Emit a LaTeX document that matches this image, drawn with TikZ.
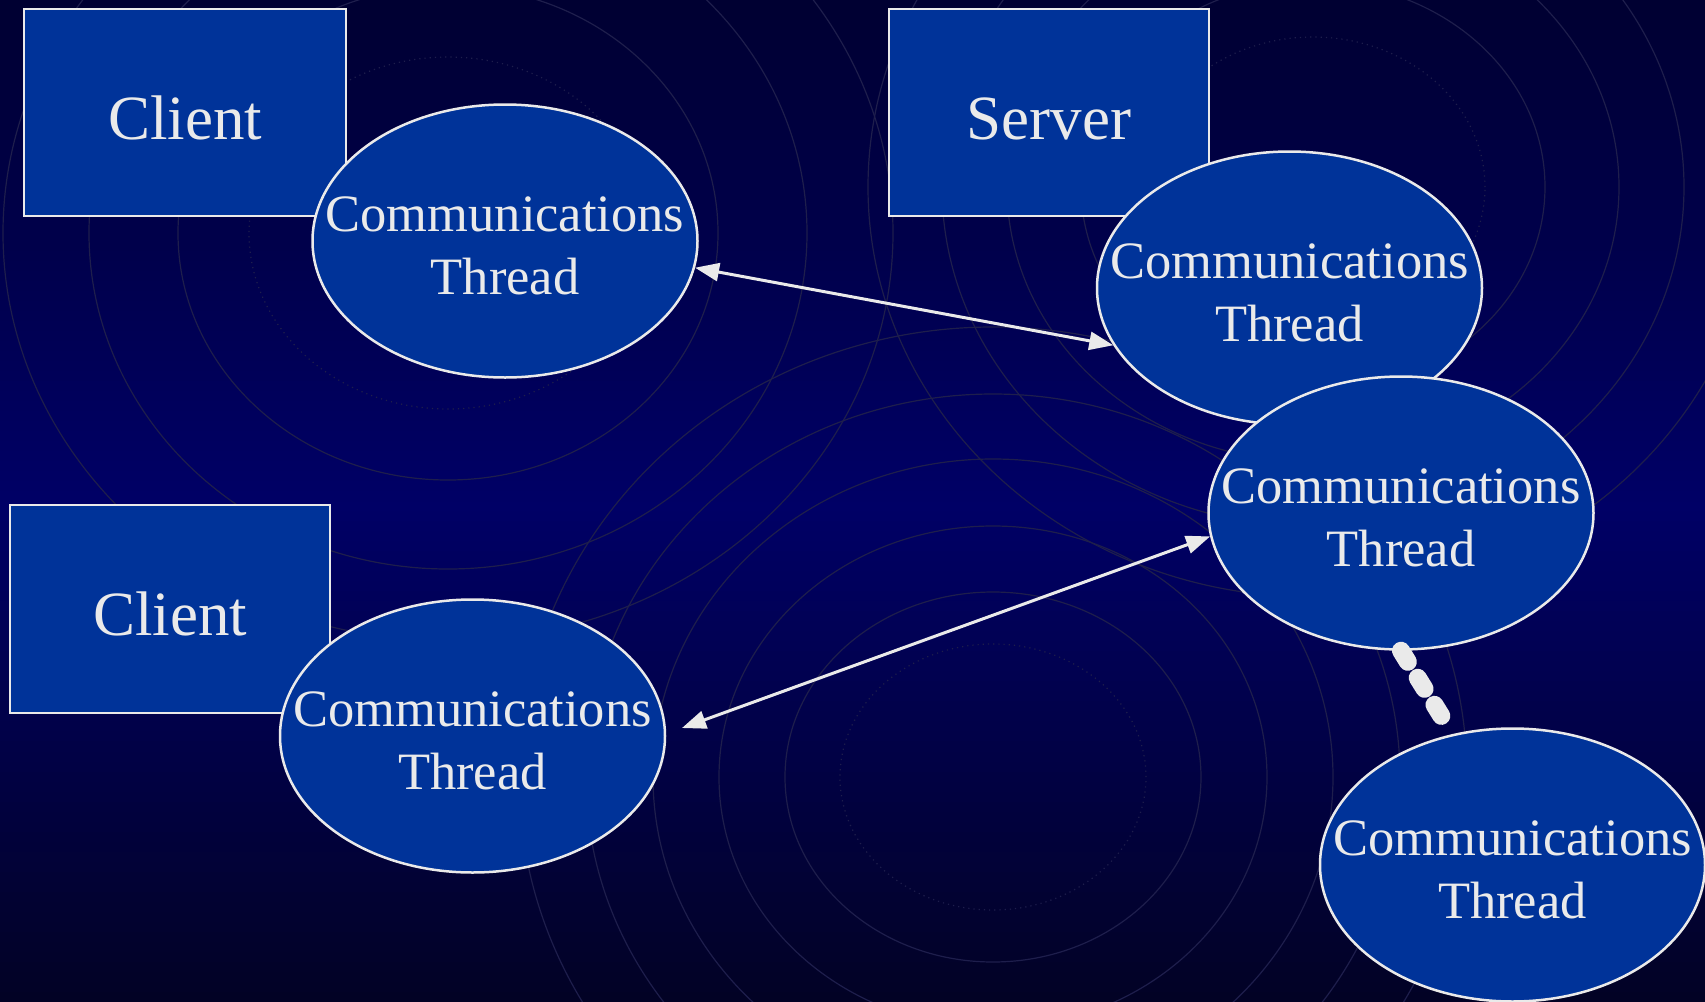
\documentclass[tikz,border=0pt]{standalone}
\usepackage{fontspec}
\setmainfont{Liberation Serif}
\usetikzlibrary{shapes.geometric,arrows.meta}
\definecolor{bgtop}{RGB}{0,0,50}
\definecolor{bgmid}{RGB}{0,0,102}
\definecolor{bgbot}{RGB}{2,2,36}
\definecolor{boxfill}{RGB}{0,51,153}
\definecolor{linecol}{RGB}{234,234,234}
\definecolor{ringcol}{RGB}{30,30,76}
\tikzset{
  ring/.style={draw=ringcol, line width=0.6pt},
  ringdot/.style={draw=ringcol, line width=0.6pt, dotted},
  bx/.style={rectangle, draw=linecol, line width=1.3pt, fill=boxfill, text=linecol,
    inner sep=0pt, text height=26.5pt, text depth=0pt,
    font=\fontsize{31.5pt}{37.8pt}\selectfont},
  th/.style={ellipse, draw=linecol, line width=1.25pt, fill=boxfill,
    inner sep=0pt, minimum width=192.5pt, minimum height=136.5pt},
  thtext/.style={text=linecol, inner sep=0pt, align=center, yshift=-2.2pt,
    font=\fontsize{26.25pt}{31.5pt}\selectfont},
  arr/.style={draw=linecol, line width=1.5pt,
    {Triangle[length=12pt,width=9pt]}-{Triangle[length=12pt,width=9pt]}},
  beads/.style={draw=linecol, line width=9pt, line cap=round, dash pattern=on 6.5pt off 9.4pt}
}
\begin{document}
\begin{tikzpicture}[x=0.5pt,y=-0.5pt]
\path[use as bounding box] (0,0) rectangle (1705,1002);
% background gradient in strips
\foreach \i in {0,...,49}{
  \pgfmathsetmacro{\p}{2*\i}
  \fill[bgmid!\p!bgtop] (0,{\i*10.02}) rectangle (1705,{(\i+1)*10.02+1});
  \pgfmathsetmacro{\q}{100-2*\i}
  \fill[bgmid!\q!bgbot] (0,{501+\i*10.02}) rectangle (1705,{501+(\i+1)*10.02+1});
}
\begin{scope}
\clip (0,0) rectangle (1705,1002);
% ring set A
\draw[ringdot] (448,233) ellipse [x radius=99.5pt, y radius=88pt];
\draw[ring] (448,233) ellipse [x radius=135pt, y radius=123.5pt];
\draw[ring] (448,233) ellipse [x radius=179.5pt, y radius=168pt];
\draw[ring] (448,233) ellipse [x radius=222.5pt, y radius=204pt];
% ring set B
\draw[ringdot] (993,777) ellipse [x radius=76.5pt, y radius=66.5pt];
\draw[ring] (993,777) ellipse [x radius=104pt, y radius=92.5pt];
\draw[ring] (993,777) ellipse [x radius=137pt, y radius=125.5pt];
\draw[ring] (993,777) ellipse [x radius=170pt, y radius=159pt];
\draw[ring] (993,777) ellipse [x radius=203.5pt, y radius=191.5pt];
\draw[ring] (993,777) ellipse [x radius=237pt, y radius=225pt];
% ring set C
\draw[ringdot] (1313,187) ellipse [x radius=86pt, y radius=75pt];
\draw[ring] (1313,187) ellipse [x radius=116pt, y radius=102.5pt];
\draw[ring] (1313,187) ellipse [x radius=153pt, y radius=137.5pt];
\draw[ring] (1313,187) ellipse [x radius=185.5pt, y radius=170pt];
\draw[ring] (1313,187) ellipse [x radius=222.5pt, y radius=205pt];
\end{scope}
% boxes
\node[bx, minimum width=161pt, minimum height=103.5pt] (c1) at (185,112.5) {Client};
\node[bx, minimum width=160pt, minimum height=103.5pt] (srv) at (1049,112.5) {Server};
\node[bx, minimum width=160pt, minimum height=104pt] (c2) at (170,609) {Client};
% threads
\node[th, label={[thtext]center:Communications\\Thread}] (e1) at (505,241) {};
\node[th, label={[thtext]center:Communications\\Thread}] (e2) at (1289.5,288) {};
\node[th, label={[thtext]center:Communications\\Thread}] (e3) at (1401,513) {};
\node[th, label={[thtext]center:Communications\\Thread}] (e4) at (472.5,736) {};
\node[th, label={[thtext]center:Communications\\Thread}] (e5) at (1512.5,865) {};
% connectors
\draw[arr] (e1.-8) -- (e2.198);
\coordinate (a2l) at (682,728);
\draw[arr] (a2l) -- (e3.187);
\coordinate (dend) at (1441.6,716.3);
\draw[beads] (e3.south) -- (dend);
\end{tikzpicture}
\end{document}
